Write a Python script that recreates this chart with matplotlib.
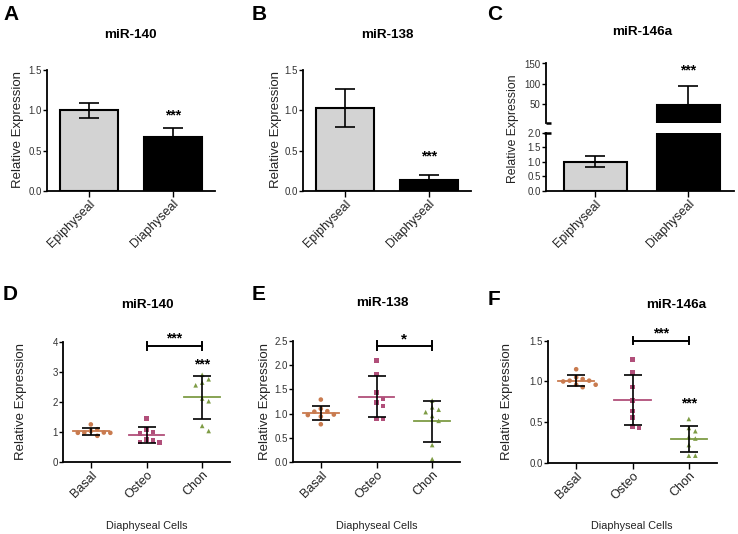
import matplotlib
matplotlib.use("Agg")
import matplotlib.pyplot as plt
import numpy as np

plt.rcParams['font.family'] = ['Liberation Sans', 'DejaVu Sans']

# ---------------- data ----------------
bar_groups = ['Epiphyseal', 'Diaphyseal']
a_means = [1.00, 0.67]
a_err = [0.09, 0.11]
b_means = [1.03, 0.14]
b_err = [0.24, 0.055]
c_means = [1.01, 46.0]
c_err = [0.20, 47.0]

cells = ['Basal', 'Osteo', 'Chon']
d_basal = [1.25, 1.09, 1.03, 0.98, 0.98, 0.97, 0.97, 0.87]
d_osteo = [1.45, 1.08, 1.00, 0.95, 0.74, 0.72, 0.67, 0.65]
d_chon = [2.90, 2.75, 2.64, 2.55, 2.11, 2.02, 1.20, 1.03]

e_basal = [1.29, 1.10, 1.05, 1.04, 0.98, 0.97, 0.94, 0.78]
e_osteo = [2.10, 1.82, 1.43, 1.30, 1.23, 1.16, 0.89, 0.89]
e_chon = [1.27, 1.13, 1.08, 1.03, 0.95, 0.85, 0.35, 0.06]

f_basal = [1.15, 1.05, 1.03, 1.01, 1.01, 1.00, 0.96, 0.96, 0.93]
f_osteo = [1.27, 1.11, 0.93, 0.77, 0.64, 0.56, 0.45, 0.43]
f_chon = [0.54, 0.43, 0.39, 0.32, 0.30, 0.22, 0.09, 0.09]

# ---------------- layout helpers ----------------
W, H = 738, 534
fig = plt.figure(figsize=(W / 100, H / 100), dpi=100)


def rect(l, r, t, b):
    return [l / W, 1 - b / H, (r - l) / W, (b - t) / H]


TICK_COLOR = '#333333'
SPINE_LW = 1.3


def style(ax):
    for s in ['top', 'right']:
        ax.spines[s].set_visible(False)
    for s in ['left', 'bottom']:
        ax.spines[s].set_linewidth(SPINE_LW)
    ax.tick_params(axis='y', direction='out', length=3, width=1.0,
                   labelsize=7, labelcolor=TICK_COLOR, pad=0.8)
    ax.tick_params(axis='x', direction='out', length=4, width=1.0,
                   labelsize=9, labelcolor='#222222', pad=1)


def rot_labels(ax, labels):
    ax.set_xticklabels(labels, rotation=45, ha='right', va='top',
                       rotation_mode='anchor')


def stars(ax, x, y, txt, size=10):
    ax.annotate(txt, (x, y), xytext=(0, -5.5), textcoords='offset points',
                ha='center', va='baseline', fontsize=size, fontweight='bold',
                annotation_clip=False)


def letter(x, y, t):
    fig.text(x / W, 1 - y / H, t, fontsize=15, fontweight='bold',
             ha='left', va='top')


def title(x, y, t):
    fig.text(x / W, 1 - y / H, t, fontsize=9.7, fontweight='bold',
             ha='center', va='center')


def ylab(x, y, t, size=9.5):
    fig.text(x / W, 1 - y / H, t, fontsize=size, rotation=90,
             ha='center', va='center', color='#222222')


BAR_COLORS = ['#D3D3D3', 'black']


def bar_panel(ax, means, errs, ylim, yticks):
    x = np.arange(len(means))
    ax.bar(x, means, width=0.68, color=BAR_COLORS,
           edgecolor='black', linewidth=1.5, zorder=2)
    ax.errorbar(x, means, yerr=errs, fmt='none', ecolor='black',
                elinewidth=1.2, capsize=7.5, capthick=1.2, zorder=3)
    ax.set_xlim(-0.5, 1.5)
    ax.set_ylim(*ylim)
    ax.set_yticks(yticks)
    ax.set_yticklabels(['%.1f' % v for v in yticks])
    ax.set_xticks(x)
    style(ax)
    rot_labels(ax, bar_groups)


# ---------------- Panel A ----------------
axA = fig.add_axes(rect(47, 215, 70, 191))
bar_panel(axA, a_means, a_err, (0, 1.5), [0, 0.5, 1.0, 1.5])
stars(axA, 1, 0.98, '***')

# ---------------- Panel B ----------------
axB = fig.add_axes(rect(303, 471, 70, 191))
bar_panel(axB, b_means, b_err, (0, 1.5), [0, 0.5, 1.0, 1.5])
stars(axB, 1, 0.47, '***')

# ---------------- Panel C (broken axis) ----------------
C_UPPER = (3, 150)
C_LOWER = (0, 2.0)
axCu = fig.add_axes(rect(546, 734, 63.5, 122.7))
axCl = fig.add_axes(rect(546, 734, 132.7, 191))
xc = np.arange(2)
big = [i for i, m in enumerate(c_means) if m > C_UPPER[0]]
small = [i for i, m in enumerate(c_means) if m <= C_LOWER[1]]
# lower segment: all bars (clipped at the top)
axCl.bar(xc, c_means, width=0.68, color=BAR_COLORS,
         edgecolor='black', linewidth=1.5, zorder=2)
# upper segment: only bars that reach it
axCu.bar(xc[big], [c_means[i] for i in big], width=0.68,
         color=[BAR_COLORS[i] for i in big], edgecolor='black',
         linewidth=1.5, zorder=2)
axCu.errorbar(xc[big], [c_means[i] for i in big],
              yerr=[[0] * len(big), [c_err[i] for i in big]], fmt='none',
              ecolor='black', elinewidth=1.2, capsize=7.5, capthick=1.2,
              zorder=3)
axCl.errorbar(xc[small], [c_means[i] for i in small],
              yerr=[c_err[i] for i in small], fmt='none',
              ecolor='black', elinewidth=1.2, capsize=7.5, capthick=1.2,
              zorder=3)
for ax in (axCu, axCl):
    ax.set_xlim(-0.53, 1.49)
    style(ax)
axCu.set_ylim(*C_UPPER)
axCu.set_yticks([50, 100, 150])
axCu.set_yticklabels(['50', '100', '150'])
axCu.spines['bottom'].set_visible(False)
axCu.set_xticks([])
axCu.plot([0, 0.025], [0, 0], transform=axCu.transAxes, color='black',
          lw=1.8, clip_on=False, solid_capstyle='butt')
axCl.set_ylim(*C_LOWER)
axCl.set_yticks([0, 0.5, 1.0, 1.5, 2.0])
axCl.set_yticklabels(['0.0', '0.5', '1.0', '1.5', '2.0'])
axCl.set_xticks(xc)
rot_labels(axCl, bar_groups)
axCl.plot([-0.012, 0.025], [1, 1], transform=axCl.transAxes, color='black',
          lw=1.8, clip_on=False, solid_capstyle='butt')
stars(axCu, 1, 142, '***')


# ---------------- scatter panels ----------------
COLS = ['#C97B4F', '#B14F7A', '#7E9C45']
MARKS = ['o', 's', '^']


def swarm_offsets(ax, xc, vals, d_px=6.5):
    tr = ax.transData
    px_per_x = tr.transform((1, 0))[0] - tr.transform((0, 0))[0]
    placed = []
    offs = []
    cand = [0]
    for i in range(1, 10):
        cand += [i, -i]
    for v in vals:
        y = tr.transform((xc, v))[1]
        chosen = 0
        for c in cand:
            ox = c * d_px
            if all(np.hypot(ox - px, y - py) >= d_px * 0.98 for px, py in placed):
                chosen = ox
                break
        placed.append((chosen, y))
        offs.append(chosen / px_per_x)
    return np.array(offs)


def scatter_panel(ax, groups, ylim, yticks, fmt):
    ax.set_xlim(-0.5, 2.5)
    ax.set_ylim(*ylim)
    for i, vals in enumerate(groups):
        vals = np.array(vals)
        offs = swarm_offsets(ax, i, vals)
        ax.scatter(i + offs, vals, s=11, marker=MARKS[i], color=COLS[i],
                   edgecolors='none', zorder=2, clip_on=False)
        m = vals.mean()
        sd = vals.std(ddof=1)
        ax.plot([i - 0.32, i + 0.32], [m, m], color=COLS[i], lw=1.3, zorder=3)
        ax.errorbar([i], [m], yerr=[sd], fmt='none', ecolor='black',
                    elinewidth=1.2, capsize=6.5, capthick=1.2, zorder=4)
    ax.set_yticks(yticks)
    ax.set_yticklabels([fmt % v for v in yticks])
    ax.set_xticks(range(3))
    style(ax)
    rot_labels(ax, cells)


def bracket(ax, x0, x1, y, h):
    ax.plot([x0, x1], [y, y], color='black', lw=1.4, clip_on=False, zorder=5)
    for xx in (x0, x1):
        ax.plot([xx, xx], [y - h, y + h], color='black', lw=1.4,
                clip_on=False, zorder=5)


# Panel D
axD = fig.add_axes(rect(63, 230, 341.7, 462))
scatter_panel(axD, [d_basal, d_osteo, d_chon], (0, 4), [0, 1, 2, 3, 4], '%d')
bracket(axD, 1, 2, 3.86, 0.14)
stars(axD, 1.5, 4.22, '***')
stars(axD, 2, 3.37, '***')

# Panel E
axE = fig.add_axes(rect(293, 460, 341, 462))
scatter_panel(axE, [e_basal, e_osteo, e_chon], (0, 2.5),
              [0, 0.5, 1.0, 1.5, 2.0, 2.5], '%.1f')
bracket(axE, 1, 2, 2.40, 0.09)
stars(axE, 1.5, 2.60, '*', size=11)

# Panel F
axF = fig.add_axes(rect(548, 717, 340.7, 463))
scatter_panel(axF, [f_basal, f_osteo, f_chon], (0, 1.5),
              [0, 0.5, 1.0, 1.5], '%.1f')
bracket(axF, 1, 2, 1.50, 0.045)
stars(axF, 1.5, 1.63, '***')
stars(axF, 2, 0.775, '***')

# ---------------- texts ----------------
letter(3, 5, 'A')
letter(252, 5, 'B')
letter(487, 5, 'C')
letter(3, 285, 'D')
letter(252, 285, 'E')
letter(488, 290, 'F')

title(130.5, 35, 'miR-140')
title(387.5, 35, 'miR-138')
title(642.5, 32, 'miR-146a')
title(147.5, 305, 'miR-140')
title(382.5, 303, 'miR-138')
title(676, 305, 'miR-146a')

ylab(18, 130, 'Relative Expression')
ylab(276, 130, 'Relative Expression')
ylab(513, 128.5, 'Relative Expression', size=8.8)
ylab(21, 401, 'Relative Expression')
ylab(265, 402, 'Relative Expression')
ylab(507, 401, 'Relative Expression')

for cx in (147, 377, 632):
    fig.text(cx / W, 1 - 526 / H, 'Diaphyseal Cells', fontsize=7.8,
             ha='center', va='center', color='#222222')

fig.savefig('out.png', dpi=100)
